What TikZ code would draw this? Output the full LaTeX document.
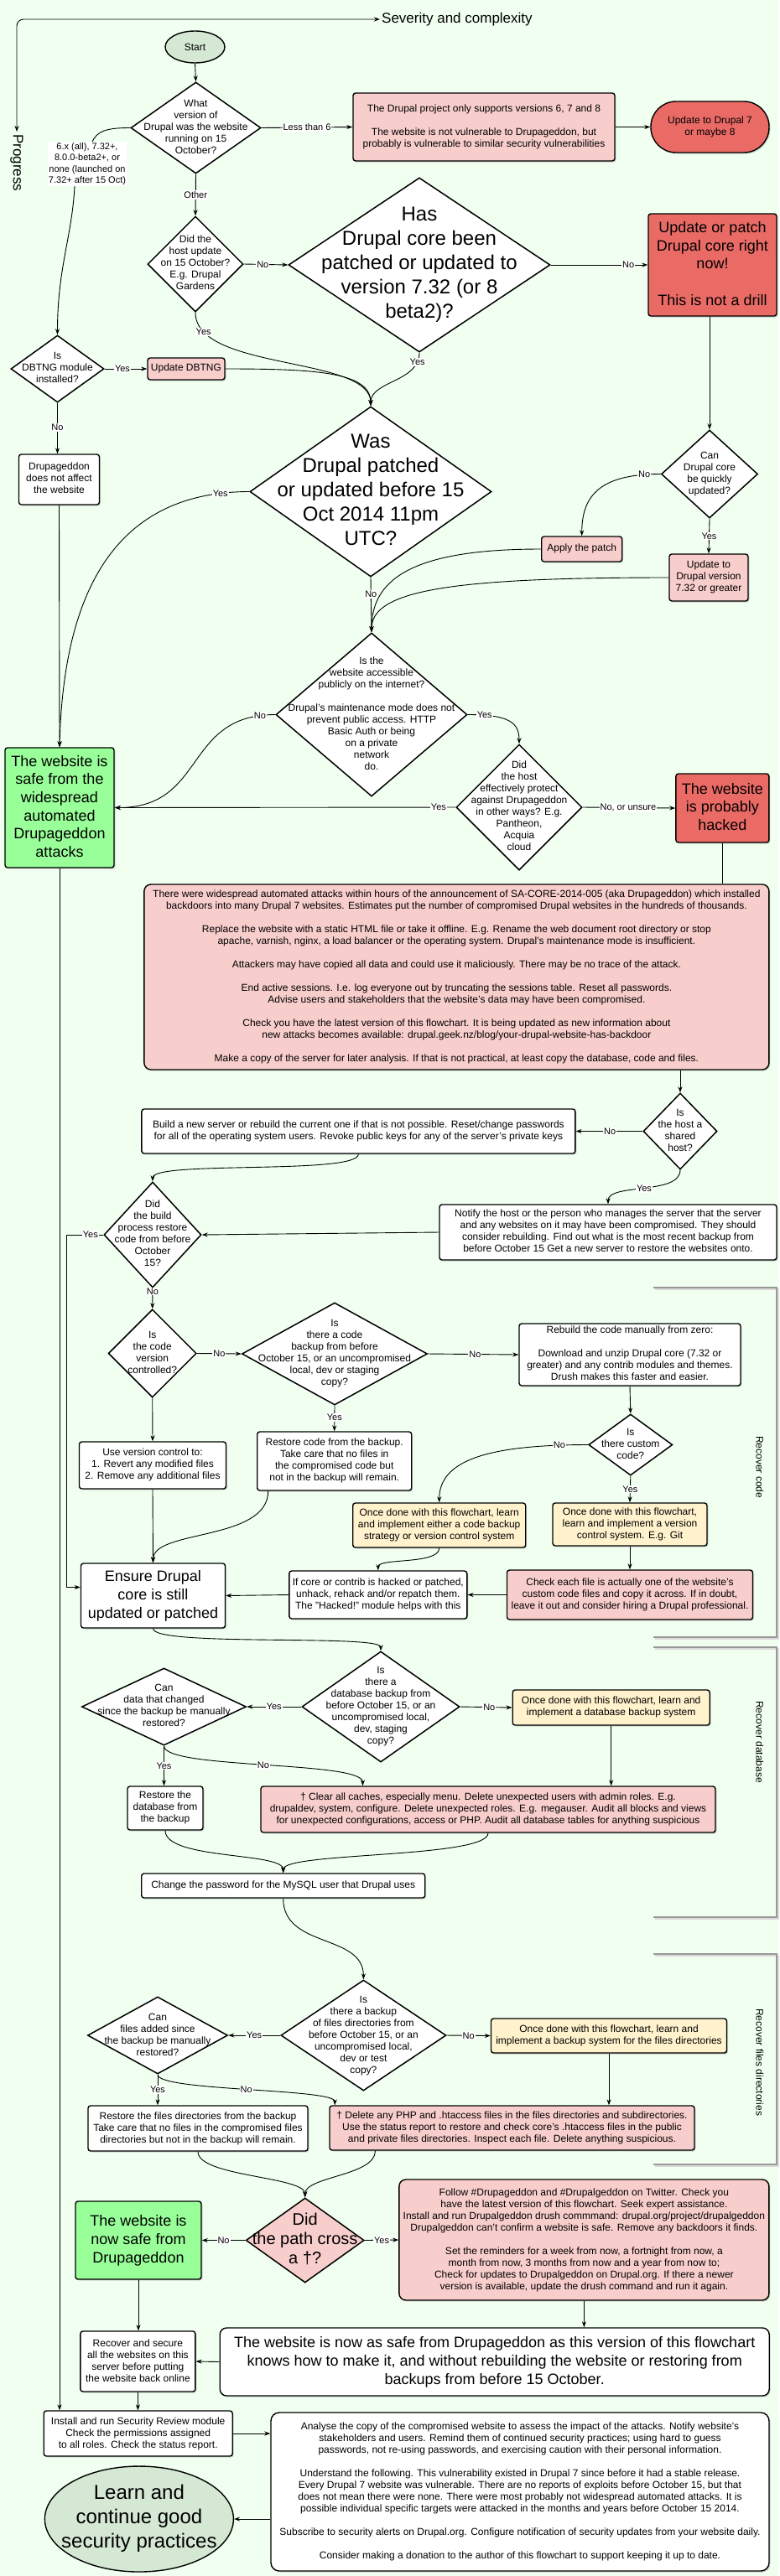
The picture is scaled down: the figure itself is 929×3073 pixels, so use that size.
\documentclass[tikz,border=0pt]{standalone}
\usepackage{fontspec}
\setmainfont{Liberation Sans}
\usepackage{tikz}
\usetikzlibrary{shapes.geometric,arrows.meta,shadows,positioning}

\definecolor{bgc}{HTML}{F0FFF0}
\definecolor{pinkc}{HTML}{F8CECC}
\definecolor{redc}{HTML}{EA6B66}
\definecolor{greenc}{HTML}{99FF99}
\definecolor{sagec}{HTML}{D5E8D4}
\definecolor{creamc}{HTML}{FFF2CC}

% text block of fixed lines, takes no room in the node
\newcommand{\mlines}[1]{\smash{\makebox[0pt]{\raisebox{-.5ex}{\begin{tabular}{@{}c@{}}#1\end{tabular}}}}}

\begin{document}
\begin{tikzpicture}[x=1pt, y=-1pt,
  every node/.style={inner sep=0pt},
  wh/.style 2 args={minimum width=#1pt, minimum height=#2pt},
  fs/.style={font=\fontsize{12}{14}\selectfont},
  fm/.style={font=\fontsize{18}{21.7}\selectfont},
  fb/.style={font=\fontsize{24}{29}\selectfont},
  box/.style={rectangle, draw, line width=1.4pt, rounded corners=3pt, fill=white,
    drop shadow={shadow xshift=1.5pt, shadow yshift=-1.5pt, opacity=0.35}, fs},
  dia/.style={diamond, draw, line width=1.5pt, fill=white, fs},
  conn/.style={line width=0.9pt},
  arr/.style={conn, -{Stealth[length=7pt,width=5pt]}},
  lbl/.style={fill=white, inner sep=1pt, font=\fontsize{11}{13.5}\selectfont},
  sect/.style={draw=black!40, line width=1.5pt},
  sectshade/.style={draw=black!15, line width=2pt, xshift=1.5pt, yshift=-1.5pt},
  secttxt/.style={font=\fontsize{12}{14}\selectfont, rotate=-90},
]
\useasboundingbox (0,0) rectangle (929,3073);
\fill[bgc] (0,0) rectangle (929,3073);

% axes
\node[font=\fontsize{17}{20}\selectfont, anchor=west] (sev) at (455,23) {Severity and complexity};
\node[font=\fontsize{17}{20}\selectfont, anchor=west, rotate=-90] (prog) at (20,160) {Progress};
\draw[conn, {Stealth[length=7pt,width=5pt]}-{Stealth[length=7pt,width=5pt]}, rounded corners=8pt]
  ([yshift=3pt]prog.west) |- ([xshift=-2pt]sev.west);

% section brackets
\foreach \ya/\yb in {1536/1953, 1965/2287, 2331/2582} {
  \draw[sectshade] (779,\ya) -| (926,\yb) -- (779,\yb);
  \draw[sect] (779,\ya) -| (926,\yb) -- (779,\yb);
}
\node[secttxt] (rcode) at (906,1750) {Recover code};
\node[secttxt] (rdb) at (906,2078) {Recover database};
\node[secttxt] (rfiles) at (906,2460) {Recover files directories};

% first checks
\node[ellipse, draw, line width=1.4pt, fill=sagec, wh={71}{38}, fs] (start) at (232.5,56) {Start};
\node[dia, wh={155}{109}] (d1) at (233.5,152.5) {\mlines{What\\version of\\Drupal was the website\\running on 15\\October?}};
\node[box, fill=pinkc, wh={312}{81}] (drupalsix) at (577,151.5) {\mlines{The Drupal project only supports versions 6, 7 and 8\\\\The website is not vulnerable to Drupageddon, but\\probably is vulnerable to similar security vulnerabilities}};
\node[box, fill=redc, rounded corners=30pt, wh={141}{61}] (upd7) at (846.5,151.5) {\mlines{Update to Drupal 7\\or maybe 8}};
\node[lbl, align=center] (vlab) at (104,195.5) {6.x (all), 7.32+,\\8.0.0-beta2+, or\\none (launched on\\7.32+ after 15 Oct)};
\node[dia, wh={114}{114}] (host) at (233,315) {\mlines{Did the\\host update\\on 15 October?\\E.g. Drupal\\Gardens}};
\node[dia, fb, wh={312}{208}] (big) at (500,316) {\mlines{Has\\Drupal core been\\patched or updated to\\version 7.32 (or 8\\beta2)?}};
\node[box, fm, fill=redc, wh={153}{122}] (rightnow) at (849.5,316) {\mlines{Update or patch\\Drupal core right\\now!\\\\This is not a drill}};
\node[dia, wh={111}{80}] (dbtng) at (68.5,440) {\mlines{Is\\DBTNG module\\installed?}};
\node[box, fill=pinkc, wh={92}{26}] (dbtngup) at (222,440) {\mlines{Update DBTNG}};
\node[box, wh={96}{60}] (notaffect) at (70.5,572) {\mlines{Drupageddon\\does not affect\\the website}};
\node[dia, fb, wh={288}{203}] (was) at (442,586.5) {\mlines{Was\\Drupal patched\\or updated before 15\\Oct 2014 11pm\\UTC?}};
\node[dia, wh={115}{105}] (quick) at (846,565.5) {\mlines{Can\\Drupal core\\be quickly\\updated?}};
\node[box, fill=pinkc, wh={96}{30}] (apply) at (693.7,655) {\mlines{Apply the patch}};
\node[box, fill=pinkc, wh={94}{56}] (upd732) at (845,689) {\mlines{Update to\\Drupal version\\7.32 or greater}};
\node[dia, wh={228}{195}] (access) at (443,852.5) {\mlines{Is the\\website accessible\\publicly on the internet?\\\\Drupal's maintenance mode does not\\prevent public access. HTTP\\Basic Auth or being\\on a private\\network\\do.}};
\node[dia, wh={150}{150}] (hosteff) at (619,963) {\mlines{Did\\the host\\effectively protect\\against Drupageddon\\in other ways? E.g.\\Pantheon,\\Acquia\\cloud}};
\node[box, fm, fill=redc, wh={111}{82}] (hacked) at (861.4,964) {\mlines{The website\\is probably\\hacked}};
\node[box, fm, fill=greenc, wh={130}{143}] (safe) at (71,963.5) {\mlines{The website is\\safe from the\\widespread\\automated\\Drupageddon\\attacks}};

% hacked
\node[box, fill=pinkc, rounded corners=8pt, wh={745}{221}] (attacks) at (544.4,1165.5) {\mlines{There were widespread automated attacks within hours of the announcement of SA-CORE-2014-005 (aka Drupageddon) which installed\\backdoors into many Drupal 7 websites. Estimates put the number of compromised Drupal websites in the hundreds of thousands.\\\\Replace the website with a static HTML file or take it offline. E.g. Rename the web document root directory or stop\\apache, varnish, nginx, a load balancer or the operating system. Drupal's maintenance mode is insufficient.\\\\Attackers may have copied all data and could use it maliciously. There may be no trace of the attack.\\\\End active sessions. I.e. log everyone out by truncating the sessions table. Reset all passwords.\\Advise users and stakeholders that the website's data may have been compromised.\\\\Check you have the latest version of this flowchart. It is being updated as new information about\\new attacks becomes available: drupal.geek.nz/blog/your-drupal-website-has-backdoor\\\\Make a copy of the server for later analysis. If that is not practical, at least copy the database, code and files.}};
\node[dia, wh={88}{91}] (shared) at (811,1349.5) {\mlines{Is\\the host a\\shared\\host?}};
\node[box, wh={517}{53}] (newserver) at (427.4,1349.5) {\mlines{Build a new server or rebuild the current one if that is not possible. Reset/change passwords\\for all of the operating system users. Revoke public keys for any of the server's private keys}};
\node[box, wh={402}{66}] (notify) at (725,1470) {\mlines{Notify the host or the person who manages the server that the server\\and any websites on it may have been compromised. They should\\consider rebuilding. Find out what is the most recent backup from\\before October 15 Get a new server to restore the websites onto.}};
\node[dia, wh={116}{126}] (restored) at (182,1473) {\mlines{Did\\the build\\process restore\\code from before\\October\\15?}};

% recover code
\node[dia, wh={105}{105}] (vc) at (181.7,1614.5) {\mlines{Is\\the code\\version\\controlled?}};
\node[dia, wh={221}{122}] (codebk) at (399,1615) {\mlines{Is\\there a code\\backup from before\\October 15, or an uncompromised\\local, dev or staging\\copy?}};
\node[box, wh={264}{74}] (rebuild) at (751,1616) {\mlines{Rebuild the code manually from zero:\\\\Download and unzip Drupal core (7.32 or\\greater) and any contrib modules and themes.\\Drush makes this faster and easier.}};
\node[dia, wh={100}{73}] (custom) at (751.8,1723.5) {\mlines{Is\\there custom\\code?}};
\node[box, wh={184}{70}] (restorecode) at (398.7,1743) {\mlines{Restore code from the backup.\\Take care that no files in\\the compromised code but\\not in the backup will remain.}};
\node[box, wh={175}{56}] (usevc) at (182,1748) {\mlines{Use version control to:\\1. Revert any modified files\\2. Remove any additional files}};
\node[box, fill=creamc, wh={206}{53}] (codecream) at (523.7,1819.5) {\mlines{Once done with this flowchart, learn\\and implement either a code backup\\strategy or version control system}};
\node[box, fill=creamc, wh={184}{51}] (gitcream) at (751,1818.5) {\mlines{Once done with this flowchart,\\learn and implement a version\\control system. E.g. Git}};
\node[box, fill=pinkc, wh={293}{59}] (check) at (751,1902.5) {\mlines{Check each file is actually one of the website's\\custom code files and copy it across. If in doubt,\\leave it out and consider hiring a Drupal professional.}};
\node[box, wh={212}{57}] (ifcore) at (450.8,1902.5) {\mlines{If core or contrib is hacked or patched,\\unhack, rehack and/or repatch them.\\The "Hacked!" module helps with this}};
\node[box, fm, wh={172}{77}] (ensure) at (182.5,1903.5) {\mlines{Ensure Drupal\\core is still\\updated or patched}};

% recover database
\node[dia, wh={188}{132}] (dbd) at (454,2036) {\mlines{Is\\there a\\database backup from\\before October 15, or an\\uncompromised local,\\dev, staging\\copy?}};
\node[dia, wh={196}{92}] (candata) at (195.5,2036) {\mlines{Can\\data that changed\\since the backup be manually\\restored?}};
\node[box, fill=creamc, wh={235}{42}] (dbcream) at (728.7,2037) {\mlines{Once done with this flowchart, learn and\\implement a database backup system}};
\node[box, wh={90}{52}] (restoredb) at (197,2157) {\mlines{Restore the\\database from\\the backup}};
\node[box, fill=pinkc, wh={542}{55}] (clearpink) at (582,2158.5) {\mlines{† Clear all caches, especially menu. Delete unexpected users with admin roles. E.g.\\drupaldev, system, configure. Delete unexpected roles. E.g. megauser. Audit all blocks and views\\for unexpected configurations, access or PHP. Audit all database tables for anything suspicious}};
\node[box, wh={338}{29}] (changepw) at (337.7,2249.5) {\mlines{Change the password for the MySQL user that Drupal uses}};

% recover files
\node[dia, wh={197}{132}] (filesd) at (433.4,2428) {\mlines{Is\\there a backup\\of files directories from\\before October 15, or an\\uncompromised local,\\dev or test\\copy?}};
\node[dia, wh={167}{92}] (canfiles) at (188,2428) {\mlines{Can\\files added since\\the backup be manually\\restored?}};
\node[box, fill=creamc, wh={281}{41}] (filescream) at (726,2428.5) {\mlines{Once done with this flowchart, learn and\\implement a backup system for the files directories}};
\node[box, wh={262}{54}] (restorefiles) at (236,2539) {\mlines{Restore the files directories from the backup\\Take care that no files in the compromised files\\directories but not in the backup will remain.}};
\node[box, fill=pinkc, wh={435}{53}] (delpink) at (610.5,2538.5) {\mlines{† Delete any PHP and .htaccess files in the files directories and subdirectories.\\Use the status report to restore and check core's .htaccess files in the public\\and private files directories. Inspect each file. Delete anything suspicious.}};

% the end
\node[dia, fill=pinkc, font=\fontsize{20}{23}\selectfont, wh={141}{101}] (path) at (363.7,2672.5) {\mlines{Did\\the path cross\\a †?}};
\node[box, fm, fill=greenc, wh={150}{93}] (nowsafe) at (165,2672.5) {\mlines{The website is\\now safe from\\Drupageddon}};
\node[box, fill=pinkc, rounded corners=8pt, wh={441}{144}] (follow) at (696.4,2672) {\mlines{Follow \#Drupageddon and \#Drupalgeddon on Twitter. Check you\\have the latest version of this flowchart. Seek expert assistance.\\Install and run Drupalgeddon drush commmand: drupal.org/project/drupalgeddon\\Drupalgeddon can't confirm a website is safe. Remove any backdoors it finds.\\\\Set the reminders for a week from now, a fortnight from now, a\\month from now, 3 months from now and a year from now to;\\Check for updates to Drupalgeddon on Drupal.org. If there a newer\\version is available, update the drush command and run it again.}};
\node[box, wh={137}{72}] (recover) at (164.4,2817) {\mlines{Recover and secure\\all the websites on this\\server before putting\\the website back online}};
\node[box, fm, rounded corners=8pt, wh={655}{81}] (final) at (589.7,2817.5) {\mlines{The website is now as safe from Drupageddon as this version of this flowchart\\knows how to make it, and without rebuilding the website or restoring from\\backups from before 15 October.}};
\node[box, wh={225}{54}] (security) at (164.7,2903) {\mlines{Install and run Security Review module\\Check the permissions assigned\\to all roles. Check the status report.}};
\node[box, rounded corners=10pt, wh={594}{189}] (analyse) at (620,2972.5) {\mlines{Analyse the copy of the compromised website to assess the impact of the attacks. Notify website's\\stakeholders and users. Remind them of continued security practices; using hard to guess\\passwords, not re-using passwords, and exercising caution with their personal information.\\\\Understand the following. This vulnerability existed in Drupal 7 since before it had a stable release.\\Every Drupal 7 website was vulnerable. There are no reports of exploits before October 15, but that\\does not mean there were none. There were most probably not widespread automated attacks. It is\\possible individual specific targets were attacked in the months and years before October 15 2014.\\\\Subscribe to security alerts on Drupal.org. Configure notification of security updates from your website daily.\\\\Consider making a donation to the author of this flowchart to support keeping it up to date.}};
\node[ellipse, draw, line width=1.4pt, fill=sagec, fb, wh={225}{126}] (learn) at (165.9,3005) {\mlines{Learn and\\continue good\\security practices}};

% connectors
\draw[arr] (start.south) -- (d1.north);
\draw[arr] (d1.east) -- (drupalsix.west) node[lbl, pos=0.5] (l1) {Less than 6};
\draw[arr] (drupalsix.east) -- (upd7.west);
\draw[arr] (d1.west) .. controls +(-30,0) and +(6,-12) .. ([xshift=6pt]vlab.north)
  ([xshift=-15pt]vlab.south) .. controls +(-3,60) and +(0,-80) .. (dbtng.north);
\draw[arr] (d1.south) -- (host.north) node[lbl, pos=0.5] (l2) {Other};
\draw[arr] (host.east) -- (big.west) node[lbl, pos=0.43] (l3) {No};
\draw[arr] (big.east) -- (rightnow.west) node[lbl, pos=0.8] (l4) {No};
\draw[arr] (quick.north |- rightnow.south) -- (quick.north);
\draw[arr] (host.south) .. controls +(0,70) and +(0,-60) .. (was.north) node[lbl, pos=0.13] (l5) {Yes};
\draw[arr] (big.south) .. controls +(0,35) and +(0,-30) .. (was.north) node[lbl, pos=0.12] (l6) {Yes};
\draw[arr] (dbtngup.east) .. controls +(110,0) and +(0,-40) .. (was.north);
\draw[arr] (dbtng.east) -- (dbtngup.west) node[lbl, pos=0.42] (l7) {Yes};
\draw[arr] (dbtng.south) -- (dbtng.south |- notaffect.north) node[lbl, pos=0.48] (l8) {No};
\draw[arr] (notaffect.south) -- (safe.north);
\draw[arr] (was.west) .. controls +(-150,0) and +(5,-200) .. (safe.north) node[lbl, pos=0.08] (l9) {Yes};
\draw[arr] (quick.west) .. controls +(-70,0) and +(0,-50) .. (apply.north) node[lbl, pos=0.1] (l10) {No};
\draw[arr] (quick.south) -- (upd732.north) node[lbl, pos=0.5] (l11) {Yes};
\draw[arr] (apply.west) .. controls +(-160,0) and +(0,-60) .. (access.north);
\draw[arr] (upd732.west) .. controls +(-260,0) and +(0,-50) .. (access.north);
\draw[arr] (was.south) -- (access.north) node[lbl, pos=0.31] (l12) {No};
\draw[arr] (access.west) .. controls +(-110,0) and +(110,0) .. (safe.east) node[lbl, pos=0.06] (l13) {No};
\draw[arr] (access.east) .. controls +(50,0) and +(0,-25) .. (hosteff.north) node[lbl, pos=0.15] (l14) {Yes};
\draw[arr] (hosteff.west) -- (safe.east) node[lbl, pos=0.05] (l15) {Yes};
\draw[arr] (hosteff.east) -- (hacked.west) node[lbl, pos=0.49] (l16) {No, or unsure};
\draw[conn] (hacked.south) -- (hacked.south |- attacks.north);
\draw[arr] (safe.south) -- (safe.south |- security.north);
\draw[arr] (shared.north |- attacks.south) -- (shared.north);
\draw[arr] (shared.west) -- (newserver.east) node[lbl, pos=0.49] (l17) {No};
\draw[arr] (shared.south) .. controls +(0,30) and +(0,-25) .. (notify.north) node[lbl, pos=0.5] (l18) {Yes};
\draw[arr] (newserver.south) .. controls +(0,25) and +(0,-25) .. (restored.north);
\draw[arr] (notify.west) -- (restored.east);
\draw[arr] (restored.west) -- ++(-44,0) node[lbl, pos=0.35] (l19) {Yes} |- ([yshift=10pt]ensure.west);
\draw[arr] (restored.south) -- (vc.north) node[lbl, pos=0.15] (l20) {No};
\draw[arr] (vc.east) -- (codebk.west) node[lbl, pos=0.5] (l21) {No};
\draw[arr] (codebk.east) -- (rebuild.west) node[lbl, pos=0.52] (l22) {No};
\draw[arr] (rebuild.south) -- (custom.north);
\draw[arr] (custom.west) .. controls +(-120,0) and +(0,-50) .. (codecream.north) node[lbl, pos=0.1] (l23) {No};
\draw[arr] (custom.south) -- (gitcream.north) node[lbl, pos=0.5] (l24) {Yes};
\draw[arr] (codebk.south) -- (restorecode.north) node[lbl, pos=0.47] (l25) {Yes};
\draw[arr] (vc.south) -- (usevc.north);
\draw[arr] (usevc.south) -- (ensure.north);
\draw[arr] ([xshift=-79pt]restorecode.south) .. controls +(0,60) and +(0,-40) .. (ensure.north);
\draw[arr] (gitcream.south) -- (check.north);
\draw[arr] (check.west) -- (ifcore.east);
\draw[arr] (codecream.south) .. controls +(0,20) and +(0,-15) .. (ifcore.north);
\draw[arr] (ifcore.west) -- (ensure.east);
\draw[arr] (ensure.south) .. controls +(0,22) and +(0,-20) .. (dbd.north);
\draw[arr] (dbd.west) -- (candata.east) node[lbl, pos=0.5] (l26) {Yes};
\draw[arr] (dbd.east) -- (dbcream.west) node[lbl, pos=0.56] (l27) {No};
\draw[arr] (candata.south) -- (candata.south |- restoredb.north) node[lbl, pos=0.5] (l28) {Yes};
\draw[arr] (candata.south) .. controls +(0,28) and +(0,-30) .. ([xshift=-149.5pt]clearpink.north) node[lbl, pos=0.5] (l29) {No};
\draw[arr] (dbcream.south) -- (dbcream.south |- clearpink.north);
\draw[arr] (restoredb.south) .. controls +(0,35) and +(0,-25) .. (changepw.north);
\draw[arr] (clearpink.south) .. controls +(0,30) and +(0,-25) .. (changepw.north);
\draw[arr] (changepw.south) .. controls +(0,60) and +(0,-55) .. (filesd.north);
\draw[arr] (filesd.west) -- (canfiles.east) node[lbl, pos=0.5] (l30) {Yes};
\draw[arr] (filesd.east) -- (filescream.west) node[lbl, pos=0.5] (l31) {No};
\draw[arr] (filescream.south) -- (filescream.south |- delpink.north);
\draw[arr] (canfiles.south) -- (canfiles.south |- restorefiles.north) node[lbl, pos=0.5] (l32) {Yes};
\draw[arr] (canfiles.south) .. controls +(0,20) and +(0,-20) .. ([xshift=7pt]delpink.north west) node[lbl, pos=0.5] (l33) {No};
\draw[arr] (restorefiles.south) .. controls +(0,30) and +(0,-25) .. (path.north);
\draw[arr] ([xshift=-163pt]delpink.south) .. controls +(0,30) and +(0,-25) .. (path.north);
\draw[arr] (path.west) -- (nowsafe.east) node[lbl, pos=0.5] (l34) {No};
\draw[arr] (path.east) -- (follow.west) node[lbl, pos=0.5] (l35) {Yes};
\draw[arr] (nowsafe.south) -- (nowsafe.south |- recover.north);
\draw[arr] (follow.south) -- (follow.south |- final.north);
\draw[arr] (final.west) -- (recover.east);
\draw[arr] (recover.south) -- (recover.south |- security.north);
\draw[arr] (security.east) -- (security.east -| analyse.west);
\draw[arr] (analyse.west |- learn.east) -- (learn.east);
\end{tikzpicture}
\end{document}
